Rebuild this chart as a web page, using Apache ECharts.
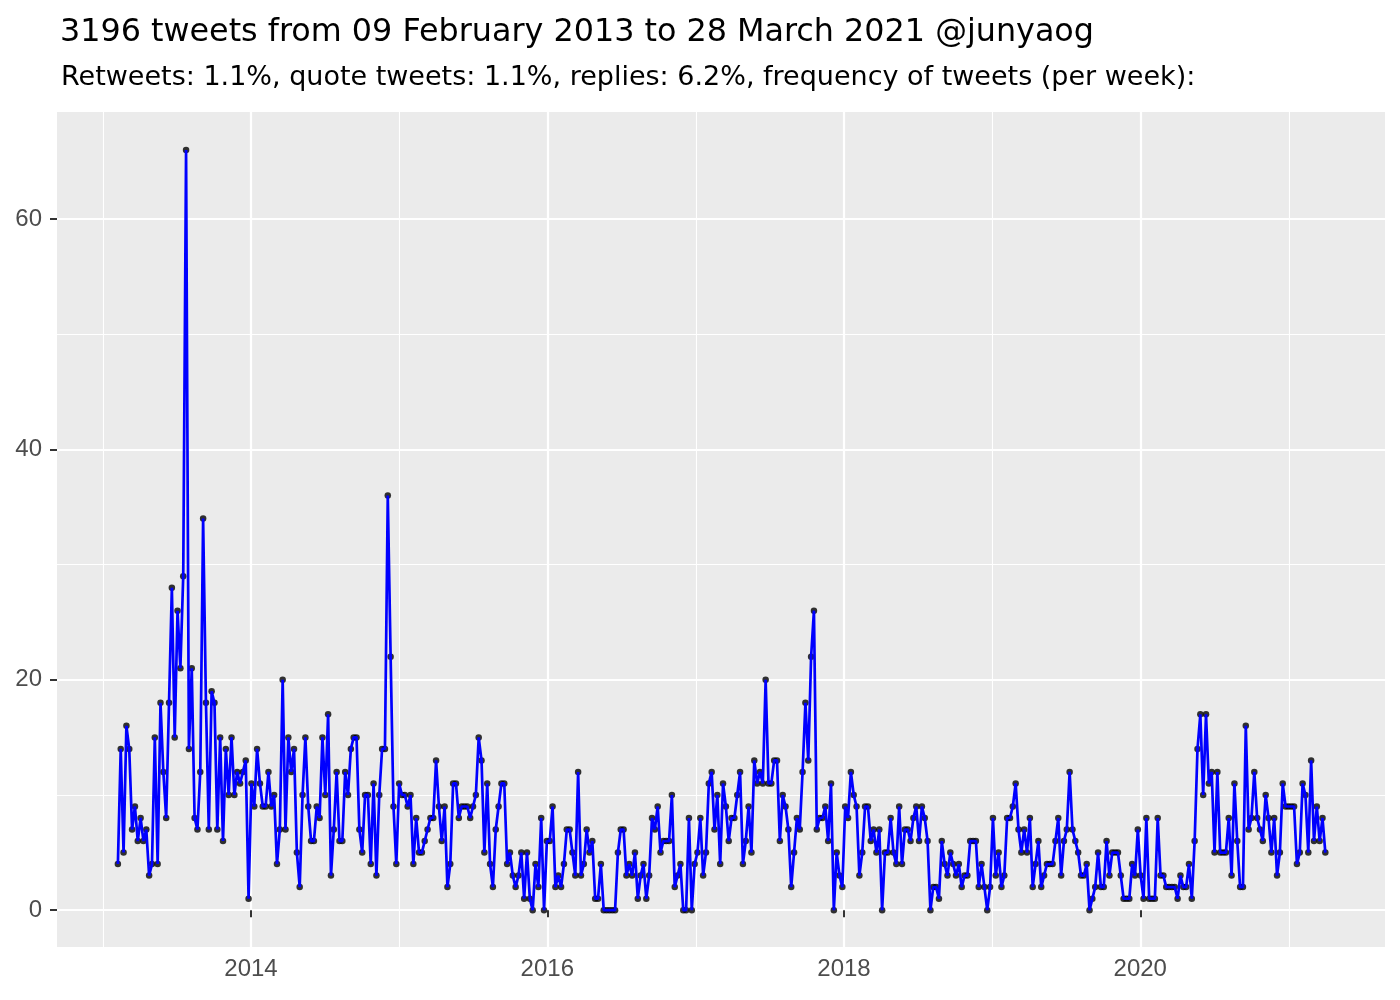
<!DOCTYPE html>
<html>
<head>
<meta charset="utf-8">
<script src="https://cdn.jsdelivr.net/npm/echarts@6/dist/echarts.min.js"></script>
<style>
  html, body { margin: 0; padding: 0; background: #fff; }
  #chart { width: 1400px; height: 1000px; }
</style>
</head>
<body>
<div id="chart"></div>
<script>
// weekly tweet counts, one value per week
var startDate = '2013-02-07';
var tweetsPerWeek = [
  4,14,5,16,14,7,9,6,8,6,
  7,3,4,15,4,18,12,8,18,28,
  15,26,21,29,66,14,21,8,7,12,
  34,18,7,19,18,7,15,6,14,10,
  15,10,12,11,12,13,1,11,9,14,
  11,9,9,12,9,10,4,7,20,7,15,
  12,14,5,2,10,15,9,6,6,9,
  8,15,10,17,3,7,12,6,6,12,
  10,14,15,15,7,5,10,10,4,11,
  3,10,14,14,36,22,9,4,11,10,
  10,9,10,4,8,5,5,6,7,8,8,
  13,9,6,9,2,4,11,11,8,9,
  9,9,8,9,10,15,13,5,11,4,
  2,7,9,11,11,4,5,3,2,3,
  5,1,5,1,0,4,2,8,0,6,
  6,9,2,3,2,4,7,7,5,3,
  12,3,4,7,5,6,1,1,4,0,
  0,0,0,0,5,7,7,3,4,3,
  5,1,3,4,1,3,8,7,9,5,
  6,6,6,10,2,3,4,0,0,8,
  0,4,5,8,3,5,11,12,7,10,
  4,11,9,6,8,8,10,12,4,6,
  9,5,13,11,12,11,20,11,11,13,
  13,6,10,9,7,2,5,8,7,12,
  18,13,22,26,7,8,8,9,6,11,
  0,5,3,2,9,8,12,10,9,3,
  5,9,9,6,7,5,7,0,5,5,
  8,5,4,9,4,7,7,6,8,9,
  6,9,8,6,0,2,2,1,6,4,
  3,5,4,3,4,2,3,3,6,6,
  6,2,4,2,0,2,8,3,5,2,
  3,8,8,9,11,7,5,7,5,8,
  2,4,6,2,3,4,4,4,6,8,
  3,6,7,12,7,6,5,3,3,4,
  0,1,2,5,2,2,6,3,5,5,
  5,3,1,1,1,4,3,7,3,
  1,8,1,1,1,8,3,3,2,2,
  2,2,1,3,2,2,4,1,6,14,
  17,10,17,11,12,5,12,5,5,5,
  8,3,11,6,2,2,16,7,8,12,
  8,7,6,10,8,5,8,3,5,11,
  9,9,9,9,4,5,11,10,5,13,
  6,9,6,8,5
];
var majorYears = ['2014-01-01', '2016-01-01', '2018-01-01', '2020-01-01'];
var minorYears = ['2013-01-01', '2015-01-01', '2017-01-01', '2019-01-01', '2021-01-01'];
var majorY = [0, 20, 40, 60];
var minorY = [10, 30, 50];

function ms(s) { return new Date(s + 'T00:00:00Z').getTime(); }
var WEEK = 7 * 24 * 3600 * 1000;
var t0 = ms(startDate);
var points = tweetsPerWeek.map(function (v, i) { return [t0 + i * WEEK, v]; });

var xMin = ms('2012-09-10'), xMax = ms('2021-08-26');
var yMin = -3.2, yMax = 69.3;
var txt = '#4D4D4D';
var tickStyle = { color: '#333333', width: 2 };

var chart = echarts.init(document.getElementById('chart'));
chart.setOption({
  animation: false,
  backgroundColor: '#ffffff',
  textStyle: { fontFamily: 'Liberation Sans, Arial, sans-serif' },
  title: [{
    text: '3196 tweets from 09 February 2013 to 28 March 2021 @junyaog',
    left: 55, top: 12,
    textStyle: { fontFamily: 'DejaVu Sans', fontSize: 31.8, fontWeight: 'normal', color: '#000' }
  }, {
    text: 'Retweets: 1.1%, quote tweets: 1.1%, replies: 6.2%, frequency of tweets (per week):',
    left: 56, top: 59,
    textStyle: { fontFamily: 'DejaVu Sans', fontSize: 27, fontWeight: 'normal', color: '#000' }
  }],
  grid: { left: 57, right: 15, top: 112, bottom: 53, show: true, backgroundColor: '#EBEBEB', borderWidth: 0 },
  xAxis: [{
    type: 'value', min: xMin, max: xMax,
    axisLine: { show: false },
    axisTick: { show: true, length: 7, lineStyle: tickStyle, customValues: majorYears.map(ms) },
    axisLabel: {
      customValues: majorYears.map(ms), color: txt, fontSize: 24, margin: 10,
      formatter: function (v) { return String(new Date(v).getUTCFullYear()); }
    },
    splitLine: { show: true, lineStyle: { color: '#ffffff', width: 2.2 } }
  }, {
    type: 'value', min: xMin, max: xMax, position: 'top',
    axisLine: { show: false },
    axisTick: { show: false, customValues: minorYears.map(ms) },
    axisLabel: { show: false, customValues: minorYears.map(ms) },
    splitLine: { show: true, lineStyle: { color: '#ffffff', width: 1.1 } }
  }],
  yAxis: [{
    type: 'value', min: yMin, max: yMax,
    axisLine: { show: false },
    axisTick: { show: true, length: 7, lineStyle: tickStyle, customValues: majorY },
    axisLabel: { customValues: majorY, color: txt, fontSize: 24, margin: 15 },
    splitLine: { show: true, lineStyle: { color: '#ffffff', width: 2.2 } }
  }, {
    type: 'value', min: yMin, max: yMax, position: 'right',
    axisLine: { show: false },
    axisTick: { show: false, customValues: minorY },
    axisLabel: { show: false, customValues: minorY },
    splitLine: { show: true, lineStyle: { color: '#ffffff', width: 1.1 } }
  }],
  series: [{
    type: 'scatter', data: points, symbolSize: 6.5, z: 2,
    itemStyle: { color: '#000' }, silent: true
  }, {
    type: 'line', data: points, showSymbol: false, z: 3,
    lineStyle: { color: '#0000FF', width: 2.7 }, silent: true
  }]
});
</script>
</body>
</html>
